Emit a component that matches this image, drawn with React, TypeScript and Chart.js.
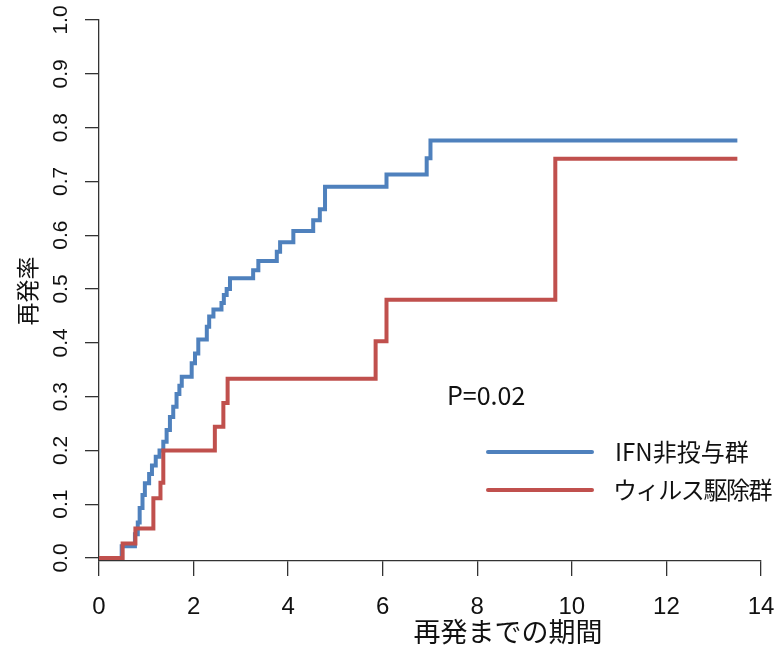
import React, { useEffect, useRef } from "react";
import { Chart, registerables } from "chart.js";

Chart.register(...registerables);

// ---- data ----
const seriesNames = ["IFN非投与群", "ウィルス駆除群"];
const seriesColors = ["#4F81BD", "#C0504D"];

const ifnTimes = [0, 0.48, 0.76, 0.82, 0.86, 0.92, 0.97, 1.06, 1.12, 1.2, 1.28, 1.36, 1.43, 1.5, 1.57, 1.64, 1.7, 1.75, 1.96, 2.03, 2.1, 2.28, 2.33, 2.42, 2.59, 2.64, 2.7, 2.77, 3.26, 3.37, 3.76, 3.83, 4.11, 4.53, 4.67, 4.78, 6.08, 6.93, 7.01, 13.5];
const ifnRates = [0, 0.022, 0.044, 0.066, 0.093, 0.117, 0.139, 0.156, 0.172, 0.188, 0.2, 0.216, 0.238, 0.262, 0.281, 0.305, 0.32, 0.337, 0.362, 0.38, 0.406, 0.43, 0.449, 0.462, 0.474, 0.489, 0.5, 0.52, 0.535, 0.552, 0.569, 0.587, 0.608, 0.628, 0.648, 0.69, 0.713, 0.743, 0.776, 0.776];

const svrTimes = [0, 0.5, 0.77, 1.15, 1.3, 1.36, 2.45, 2.63, 2.72, 5.85, 6.08, 9.65, 13.5];
const svrRates = [0, 0.027, 0.055, 0.111, 0.14, 0.2, 0.244, 0.288, 0.333, 0.403, 0.48, 0.742, 0.742];

const xTickValues = [0, 2, 4, 6, 8, 10, 12, 14];
const yTickValues = [0, 0.1, 0.2, 0.3, 0.4, 0.5, 0.6, 0.7, 0.8, 0.9, 1.0];
const yTickLabels = ["0.0", "0.1", "0.2", "0.3", "0.4", "0.5", "0.6", "0.7", "0.8", "0.9", "1.0"];

const xTitle = "再発までの期間";
const yTitle = "再発率";
const pText = "P=0.02";

const JP = '"Noto Sans CJK JP", "Noto Sans", sans-serif';
const NUM = '"Liberation Sans", Arial, sans-serif';
const AXIS_COLOR = "#333333";
const TEXT_COLOR = "#111111";

const toPoints = (t: number[], v: number[]) => t.map((x, i) => ({ x, y: v[i] }));

const annotPlugin = {
  id: "annot",
  afterDraw(chart: any) {
    const { ctx, chartArea: a, scales } = chart;
    const ys = scales.y;
    ctx.save();
    ctx.fillStyle = TEXT_COLOR;
    // y title
    ctx.save();
    ctx.font = `23px ${JP}`;
    ctx.textAlign = "center";
    ctx.textBaseline = "middle";
    ctx.translate(27, (ys.getPixelForValue(0) + ys.getPixelForValue(1)) / 2 + 2);
    ctx.rotate(-Math.PI / 2);
    ctx.fillText(yTitle, 0, 0);
    ctx.restore();
    // x title
    ctx.font = `27px ${JP}`;
    ctx.textAlign = "center";
    ctx.textBaseline = "middle";
    ctx.fillText(xTitle, a.left + 409, 632);
    // P value
    ctx.font = `25px ${JP}`;
    ctx.textAlign = "left";
    ctx.fillText(pText, a.left + 348, 395);
    // legend
    const rows = [452, 490];
    const spacing = ["0px", "-1.4px"];
    rows.forEach((y, i) => {
      ctx.strokeStyle = seriesColors[i];
      ctx.lineWidth = 4;
      ctx.lineCap = "round";
      ctx.beginPath();
      ctx.moveTo(a.left + 389, y);
      ctx.lineTo(a.left + 493, y);
      ctx.stroke();
      ctx.fillStyle = TEXT_COLOR;
      ctx.font = `24px ${JP}`;
      ctx.textAlign = "left";
      ctx.textBaseline = "middle";
      (ctx as any).letterSpacing = spacing[i];
      ctx.fillText(seriesNames[i], a.left + (i === 0 ? 516 : 514), y);
      (ctx as any).letterSpacing = "0px";
    });
    ctx.restore();
  },
};

export default function App() {
  const ref = useRef<HTMLCanvasElement | null>(null);
  useEffect(() => {
    document.body.style.margin = "0";
    const canvas = ref.current;
    if (!canvas) return;
    const chart = new Chart(canvas, {
      type: "line",
      data: {
        datasets: [
          {
            label: seriesNames[0],
            data: toPoints(ifnTimes, ifnRates),
            borderColor: seriesColors[0],
            borderWidth: 4,
            stepped: "before",
            pointRadius: 0,
            fill: false,
            order: 1,
          },
          {
            label: seriesNames[1],
            data: toPoints(svrTimes, svrRates),
            borderColor: seriesColors[1],
            borderWidth: 4,
            stepped: "before",
            pointRadius: 0,
            fill: false,
            order: 0,
          },
        ],
      },
      options: {
        animation: false,
        responsive: false,
        devicePixelRatio: 1,
        layout: { padding: { top: 20, right: 13, bottom: 0, left: 0 } },
        plugins: { legend: { display: false }, tooltip: { enabled: false } },
        scales: {
          x: {
            type: "linear",
            min: 0,
            max: 14,
            afterBuildTicks: (s: any) => {
              s.ticks = xTickValues.map((v) => ({ value: v }));
            },
            afterFit: (s: any) => {
              s.height = 88;
              s.paddingLeft = 0;
              s.paddingRight = 0;
            },
            grid: {
              drawOnChartArea: false,
              drawTicks: true,
              tickLength: 15,
              color: AXIS_COLOR,
              lineWidth: 1.3,
            },
            border: { display: true, color: AXIS_COLOR, width: 1.3 },
            ticks: {
              padding: 17,
              maxRotation: 0,
              autoSkip: false,
              color: TEXT_COLOR,
              font: { family: NUM, size: 24 },
            },
          },
          y: {
            type: "linear",
            min: -0.0056,
            max: 1,
            afterBuildTicks: (s: any) => {
              s.ticks = yTickValues.map((v) => ({ value: v }));
            },
            afterFit: (s: any) => {
              s.width = 99;
              s.paddingTop = 0;
              s.paddingBottom = 0;
            },
            grid: {
              drawOnChartArea: false,
              drawTicks: true,
              tickLength: 14,
              color: AXIS_COLOR,
              lineWidth: 1.3,
            },
            border: { display: true, color: AXIS_COLOR, width: 1.3 },
            ticks: {
              minRotation: 90,
              maxRotation: 90,
              crossAlign: "center",
              padding: 9,
              autoSkip: false,
              color: TEXT_COLOR,
              font: { family: NUM, size: 21 },
              callback: (v: any) => {
                const i = yTickValues.findIndex((t) => Math.abs(t - Number(v)) < 1e-6);
                return i >= 0 ? yTickLabels[i] : "";
              },
            },
          },
        },
      },
      plugins: [annotPlugin],
    } as any);
    return () => chart.destroy();
  }, []);
  return (
    <div style={{ width: 774, height: 649, background: "#fff" }}>
      <canvas ref={ref} width={774} height={649} style={{ display: "block" }} />
    </div>
  );
}
